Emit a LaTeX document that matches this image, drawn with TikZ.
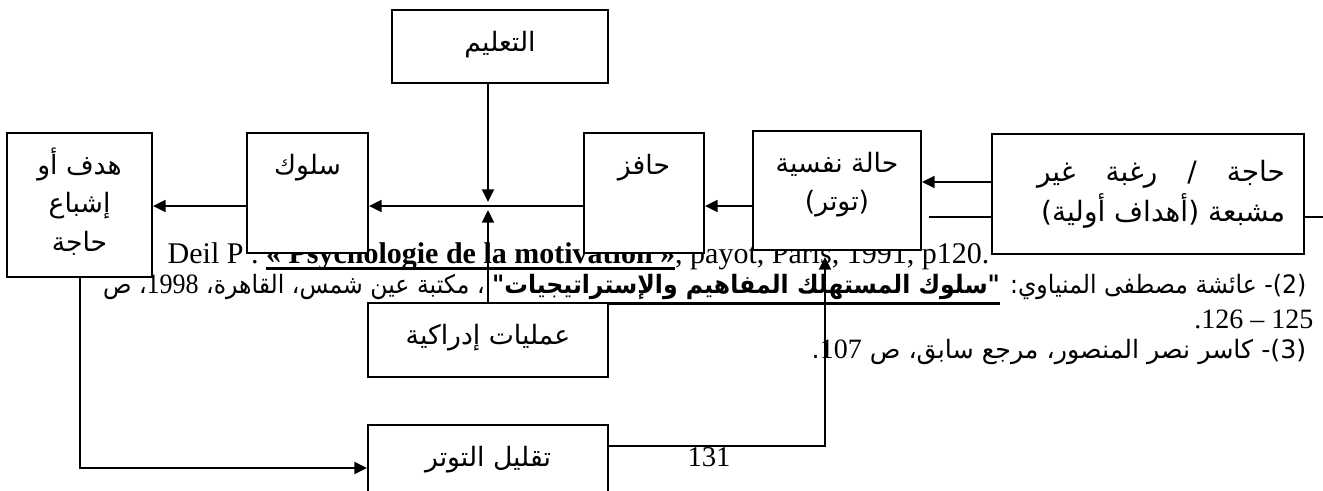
\documentclass[tikz,border=0pt]{standalone}
\usepackage{fontspec}
\usepackage{graphicx}
\setmainfont{Liberation Serif}
\newfontfamily\arfont[Script=Arabic]{DejaVu Sans}
\usetikzlibrary{arrows.meta}
\TeXXeTstate=1
\newdimen\pxu \pxu=0.75pt
\newcommand\ar[1]{\beginR#1\endR}
\newcommand\boxlbl[4][\centering]{\parbox[c][#3\pxu][t]{#2\pxu}{\arfont\fontsize{20pt}{29pt}\selectfont#1\rule{0pt}{41\pxu}#4}}
\newcommand\ulbox[3]{\hbox{\setbox0\hbox{#3}\rlap{\rule[-#1]{\wd0}{#2}}\box0}}

\begin{document}
\begin{tikzpicture}[x=0.75pt,y=-0.75pt,box/.style={draw,fill=white,line width=1.5pt,inner sep=0pt},arr/.style={-{Triangle[length=9.5pt,width=9pt]},line width=1.5pt},ln/.style={line width=1.5pt},lat/.style={font=\fontsize{22.5pt}{24pt}\selectfont},arb/.style={font=\arfont\fontsize{19pt}{22pt}\selectfont}]
\useasboundingbox[fill=white] (0,0) rectangle (1323,490);
% footnote text under the boxes
\node[lat,anchor=base west] (ref1) at (163,263) {Deil P . \ulbox{5pt}{2pt}{\bfseries « Psychologie de la motivation »}, payot, Paris, 1991, p120.};
\node[arb,anchor=base east] (ref2) at (1311,293) {\scalebox{0.93}[1]{\ar{\beginL(2)\endL- عائشة مصطفى المنياوي:  \ulbox{9pt}{2pt}{\ar{\bfseries "سلوك المستهلك المفاهيم والإستراتيجيات"}} ، مكتبة عين شمس، القاهرة،  \beginL{\rmfamily\fontsize{21pt}{22pt}\selectfont 1998}\endL، ص}}};
\node[lat,anchor=base east,font=\fontsize{21pt}{22pt}\selectfont] (ref3) at (1318,328) {.126 – 125};
\node[arb,anchor=base east] (ref4) at (1311,358) {\ar{\beginL(3)\endL- كاسر نصر المنصور،  مرجع سابق،  ص  \beginL{\rmfamily\fontsize{21pt}{22pt}\selectfont 107}\endL.}};
\node[lat,font=\fontsize{21.5pt}{24pt}\selectfont] (page) at (709,457) {131};
% boxes
\node[box] (taalim) at (500,46.5) {\boxlbl{216}{73}{\ar{التعليم}}};
\node[box] (hadaf) at (79.5,205) {\boxlbl{145}{144}{\ar{هدف أو}\\\ar{إشباع}\\\ar{حاجة}}};
\node[box] (sulook) at (307.5,193) {\boxlbl{121}{120}{\ar{سلوك}}};
\node[box] (hafez) at (644,193) {\boxlbl{120}{120}{\ar{حافز}}};
\node[box] (hala) at (837,190.5) {\boxlbl{168}{119}{\ar{حالة نفسية}\\\ar{(توتر)}}};
\node[box,minimum width=312\pxu] (haja) at (1148,194) {\boxlbl[\raggedleft\fontsize{21pt}{30pt}\selectfont\vspace*{6\pxu}]{274}{120}{\hbox to 248\pxu{\beginR حاجة\hfil /\hfil رغبة\hfil غير\endR}\\\ar{مشبعة (أهداف أولية)}}};
\node[box,minimum width=240\pxu] (idrak) at (488,340) {\boxlbl{240}{74}{\ar{عمليات إدراكية}}};
\node[box,minimum width=240\pxu] (taqlil) at (488,468) {\boxlbl{240}{86}{\ar{تقليل التوتر}}};
% connectors
\coordinate (jn) at (488,206);
\coordinate (upper) at (0,182);
\coordinate (stray) at (929,217);
\coordinate (edge) at (1323,217);
\coordinate (lowline) at (825,446);
\foreach \a/\b in {hala/hafez,hafez/sulook,sulook/hadaf}
  \draw[arr] (\a.west |- jn) -- (\b.east |- jn);
\draw[arr] (taalim.south -| jn) -- ([yshift=3pt]jn);
\draw[arr] (idrak.north -| jn) -- ([yshift=-3pt]jn);
\draw[arr] (haja.west |- upper) -- (hala.east |- upper);
\draw[ln] (stray) -- (haja.west |- stray);
\draw[ln] (haja.east |- stray) -- (edge);
\draw[arr] (hadaf.south) |- (taqlil.west);
\draw[arr] (taqlil.east |- lowline) -| ([yshift=-4.5pt]hala.south -| lowline);
\end{tikzpicture}
\end{document}
